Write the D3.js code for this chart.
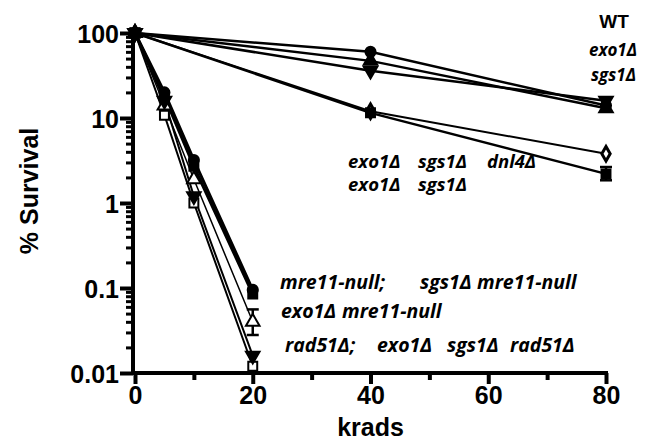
<!DOCTYPE html>
<html>
<head>
<meta charset="utf-8">
<script src="https://cdn.jsdelivr.net/npm/d3@7"></script>
<style>
  body { margin: 0; background: #fff; }
  .tick text { font-family: "Liberation Sans", Arial, sans-serif; font-weight: bold; }
</style>
</head>
<body>
<div id="canvas"></div>
<script>
"use strict"

let svgWidth = 655
let svgHeight = 442
let margin = { top: 33, right: 49, bottom: 69, left: 135 }

/* doses (krads) */
let dosesLow = [0, 5, 10, 20]
let dosesHigh = [0, 40, 80]

/* survival (%) per strain */
let wt = [100, 60, 14]
let exo1 = [100, 47, 13]
let sgs1 = [100, 36, 16]
let exo1sgs1dnl4 = [100, 12, 3.8]
let exo1sgs1 = [100, 11.5, 2.2]
let mre11 = [100, 20, 3.2, 0.095]
let sgs1mre11 = [100, 18, 2.7, 0.085]
let exo1mre11 = [100, 14, 1.9, 0.04]
let rad51 = [100, 16, 1.2, 0.016]
let exo1sgs1rad51 = [100, 10.8, 1.0, 0.012]

/* error bars: [dose, low, high] */
let errExo1sgs1 = [80, 1.85, 2.65]
let errSgs1 = [80, 12, 17.5]
let errExo1mre11 = [20, 0.028, 0.056]

let xTicks = [0, 20, 40, 60, 80]
let xMinorTicks = [10, 30, 50, 70]
let yTicks = [100, 10, 1, 0.1, 0.01]
let yTickLabels = ["100", "10", "1", "0.1", "0.01"]

/* open symbols first so the filled ones sit on top */
let series = [
    { doses: dosesHigh, values: exo1sgs1dnl4, symbol: d3.symbolDiamond, fill: "white", width: 2 },
    { doses: dosesLow, values: exo1mre11, symbol: d3.symbolTriangle, fill: "white", width: 1.5 },
    { doses: dosesLow, values: exo1sgs1rad51, symbol: d3.symbolSquare, fill: "white", width: 2 },
    { doses: dosesHigh, values: wt, symbol: d3.symbolCircle, fill: "black", width: 2.5 },
    { doses: dosesHigh, values: exo1, symbol: d3.symbolTriangle, fill: "black", width: 2.5 },
    { doses: dosesHigh, values: sgs1, symbol: "down", fill: "black", width: 2.5 },
    { doses: dosesHigh, values: exo1sgs1, symbol: d3.symbolSquare, fill: "black", width: 2.5 },
    { doses: dosesLow, values: mre11, symbol: d3.symbolCircle, fill: "black", width: 3 },
    { doses: dosesLow, values: sgs1mre11, symbol: d3.symbolSquare, fill: "black", width: 3 },
    { doses: dosesLow, values: rad51, symbol: "down", fill: "black", width: 2 }
]

let svg = d3.select("#canvas")
    .append("svg")
    .attr("width", svgWidth)
    .attr("height", svgHeight)

let innerW = svgWidth - margin.left - margin.right
let innerH = svgHeight - margin.top - margin.bottom

let xScale = d3.scaleLinear().domain([0, 80]).range([0, innerW])
let yScale = d3.scaleLog().domain([0.01, 100]).range([innerH, 0])

let viz = svg.append("g")
    .attr("transform", `translate(${margin.left},${margin.top})`)

/* minor y ticks */
let yMinor = []
for (let d = 0.01; d < 100; d *= 10) {
    for (let k = 2; k <= 9; k++) yMinor.push(+(d * k).toPrecision(2))
}
viz.append("g")
    .call(d3.axisLeft(yScale).tickValues(yMinor).tickSize(7).tickFormat(""))
    .call(g => g.select(".domain").remove())
    .call(g => g.selectAll("line").attr("stroke-width", 3).attr("transform", "translate(-2,0)"))

/* major y ticks */
viz.append("g")
    .call(d3.axisLeft(yScale).tickValues(yTicks).tickSize(13)
        .tickFormat((d, i) => yTickLabels[i]))
    .call(g => g.select(".domain").attr("stroke-width", 4).attr("d", `M-2,${innerH}V-2`))
    .call(g => g.selectAll("line").attr("stroke-width", 4).attr("transform", "translate(-2,0)"))
    .call(g => g.selectAll("text").style("font-size", "25px").attr("x", -16).attr("dy", "0.36em"))

/* x axis */
let xg = viz.append("g").attr("transform", `translate(0,${innerH})`)
xg.append("g")
    .call(d3.axisBottom(xScale).tickValues(xMinorTicks).tickSize(7).tickFormat(""))
    .call(g => g.select(".domain").remove())
    .call(g => g.selectAll("line").attr("stroke-width", 4))
xg.append("g")
    .call(d3.axisBottom(xScale).tickValues(xTicks).tickSize(11))
    .call(g => g.select(".domain").attr("stroke-width", 4).attr("d", `M-2,0H${innerW + 2}`))
    .call(g => g.selectAll("line").attr("stroke-width", 4))
    .call(g => g.selectAll("text").style("font-size", "25px").attr("y", 13))

/* axis titles */
svg.append("text")
    .attr("transform", "translate(38,191) rotate(-90)")
    .attr("text-anchor", "middle")
    .style("font-family", "Liberation Sans, Arial, sans-serif")
    .style("font-weight", "bold")
    .style("font-size", "25px")
    .text("% Survival")

svg.append("text")
    .attr("x", margin.left + innerW / 2)
    .attr("y", 436)
    .attr("text-anchor", "middle")
    .style("font-family", "Liberation Sans, Arial, sans-serif")
    .style("font-weight", "bold")
    .style("font-size", "25px")
    .text("krads")

/* lines */
let line = d3.line()
    .x(d => xScale(d[0]))
    .y(d => yScale(d[1]))

series.forEach(s => {
    viz.append("path")
        .datum(s.doses.map((d, i) => [d, s.values[i]]))
        .attr("d", line)
        .attr("fill", "none")
        .attr("stroke", "black")
        .attr("stroke-width", s.width)
})

/* error bars */
;[errExo1sgs1, errSgs1, errExo1mre11].forEach(e => {
    let x = xScale(e[0])
    viz.append("line")
        .attr("x1", x).attr("x2", x)
        .attr("y1", yScale(e[1])).attr("y2", yScale(e[2]))
        .attr("stroke", "black").attr("stroke-width", 2.5)
    ;[e[1], e[2]].forEach(v => {
        viz.append("line")
            .attr("x1", x - 6).attr("x2", x + 6)
            .attr("y1", yScale(v)).attr("y2", yScale(v))
            .attr("stroke", "black").attr("stroke-width", 2.5)
    })
})

/* markers */
series.forEach(s => {
    let sym = s.symbol === "down" ? d3.symbolTriangle : s.symbol
    let rot = s.symbol === "down" ? " rotate(180)" : ""
    s.doses.forEach((d, i) => {
        viz.append("path")
            .attr("d", d3.symbol().type(sym).size(s.symbol === d3.symbolDiamond ? 60 : 80)())
            .attr("transform", `translate(${xScale(d)},${yScale(s.values[i])})${rot}`)
            .attr("fill", s.fill)
            .attr("stroke", "black")
            .attr("stroke-width", s.symbol === d3.symbolDiamond ? 3 : 2)
    })
})

/* strain labels: each word placed separately (wide gaps in the original) */
let labels = [
    { words: [["WT", 614]], y: 28, size: 19, anchor: "middle", italic: false },
    { words: [["exo1Δ", 637]], y: 56, size: 17, anchor: "end", italic: true },
    { words: [["sgs1Δ", 636]], y: 81, size: 17, anchor: "end", italic: true },
    { words: [["exo1Δ", 348], ["sgs1Δ", 418], ["dnl4Δ", 487]], y: 168, size: 18.5, anchor: "start", italic: true },
    { words: [["exo1Δ", 348], ["sgs1Δ", 418]], y: 191, size: 18.5, anchor: "start", italic: true },
    { words: [["mre11-null;", 280], ["sgs1Δ", 420], ["mre11-null", 477]], y: 289, size: 19.5, anchor: "start", italic: true },
    { words: [["exo1Δ", 281], ["mre11-null", 342]], y: 318, size: 19.5, anchor: "start", italic: true },
    { words: [["rad51Δ;", 285], ["exo1Δ", 377], ["sgs1Δ", 447], ["rad51Δ", 510]], y: 352, size: 19.5, anchor: "start", italic: true }
]
labels.forEach(l => {
    l.words.forEach(w => {
        svg.append("text")
            .attr("x", w[1])
            .attr("y", l.y)
            .attr("text-anchor", l.anchor)
            .style("font-family", l.italic ? "'Open Sans', sans-serif" : "Liberation Sans, Arial, sans-serif")
            .style("font-weight", "bold")
            .style("font-style", l.italic ? "italic" : "normal")
            .style("font-size", l.size + "px")
            .text(w[0])
    })
})
</script>
</body>
</html>
